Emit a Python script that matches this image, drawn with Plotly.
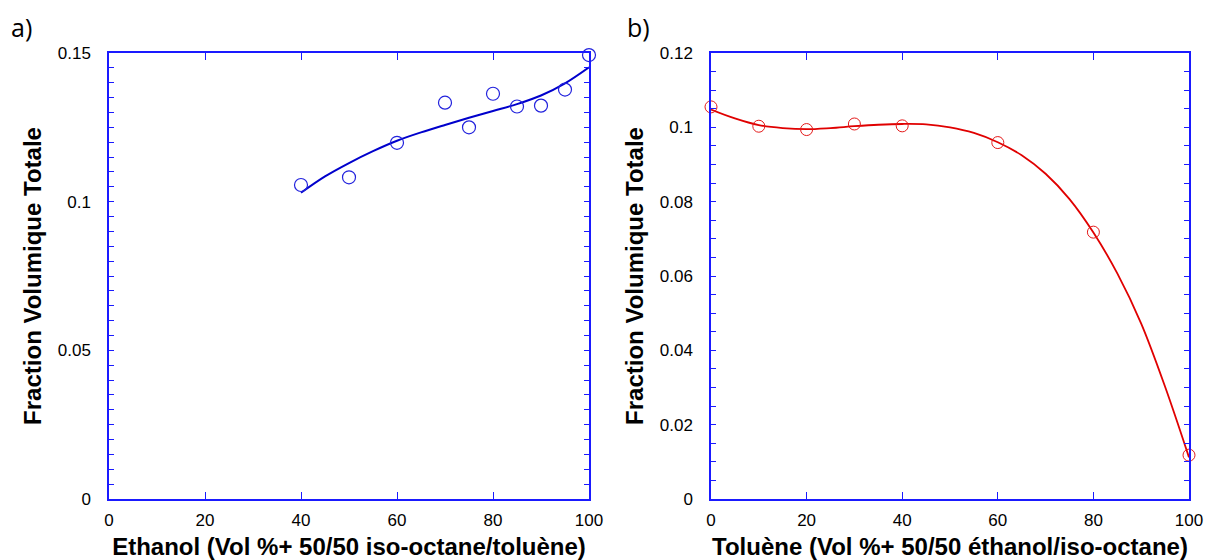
import plotly.graph_objects as go

# a) Ethanol - points measured
eth_x = [40, 50, 60, 70, 75, 80, 85, 90, 95, 100]
eth_y = [0.1056, 0.1082, 0.1198, 0.1333, 0.1250, 0.1363, 0.1320, 0.1323, 0.1377, 0.1493]
# a) fitted curve (read from picture)
eth_fit_x = [40, 45, 50, 55, 60, 65, 70, 75, 80, 85, 90, 95, 100]
eth_fit_y = [0.1030, 0.1085, 0.1130, 0.1170, 0.1205, 0.1233, 0.1258, 0.1282, 0.1305, 0.1328, 0.1357, 0.1398, 0.1452]

# b) Toluene - points measured
tol_x = [0, 10, 20, 30, 40, 60, 80, 100]
tol_y = [0.1055, 0.1003, 0.0994, 0.1009, 0.1004, 0.0959, 0.0718, 0.0118]
# b) fitted curve
tol_fit_x = [0, 5, 10, 15, 20, 25, 30, 35, 40, 45, 50, 55, 60, 65, 70, 75, 80, 85, 90, 95, 100]
tol_fit_y = [0.1048, 0.1024, 0.1006, 0.0998, 0.0995, 0.0998, 0.1003, 0.1007, 0.1009, 0.1008, 0.1000,
             0.0985, 0.0960, 0.0925, 0.0875, 0.0807, 0.0717, 0.0607, 0.0472, 0.0302, 0.0112]

red = '#e00000'
axis_col = '#1a1aff'

fig = go.Figure()

fig.add_trace(go.Scatter(x=eth_fit_x, y=eth_fit_y, mode='lines', line=dict(color='#0000cc', width=2, shape='spline'),
                         xaxis='x', yaxis='y', showlegend=False))
fig.add_trace(go.Scatter(x=eth_x, y=eth_y, mode='markers',
                         marker=dict(symbol='circle-open', size=13, color='#2222dd', line=dict(width=1.2)),
                         xaxis='x', yaxis='y', showlegend=False, cliponaxis=False))

fig.add_trace(go.Scatter(x=tol_fit_x, y=tol_fit_y, mode='lines', line=dict(color=red, width=1.8, shape='spline'),
                         xaxis='x2', yaxis='y2', showlegend=False))
fig.add_trace(go.Scatter(x=tol_x, y=tol_y, mode='markers',
                         marker=dict(symbol='circle-open', size=12, color='#e41a1a', line=dict(width=1)),
                         xaxis='x2', yaxis='y2', showlegend=False, cliponaxis=False))

tickfont = dict(family='Liberation Sans, Arial', size=17, color='black')
titlefont = dict(family='Liberation Sans, Arial', size=24, color='black', weight='bold')

xcommon = dict(range=[0, 100], dtick=20, ticks='inside', ticklen=7, tickcolor=axis_col,
               showline=True, linecolor=axis_col, linewidth=1.5, mirror='ticks', automargin=False,
               showgrid=False, zeroline=False, tickfont=tickfont, ticklabelstandoff=5)
ycommon = dict(ticks='inside', ticklen=5, tickcolor=axis_col, automargin=False,
               showline=True, linecolor=axis_col, linewidth=1.5, mirror='ticks',
               showgrid=False, zeroline=False, tickfont=tickfont, ticklabelstandoff=13,
               minor=dict(dtick=0.005, ticks='inside', ticklen=5, tickcolor=axis_col, showgrid=False))

# the page body adds an 8px offset, so the figure is 8px smaller and margins shifted
OFF = 8
FW, FH = 1212 - OFF, 560 - OFF
L, R, T, B = 109 - OFF, 23, 53 - OFF, 61
W = FW - L - R
H = FH - T - B

fig.update_layout(
    width=FW, height=FH,
    margin=dict(l=L, r=R, t=T, b=B),
    paper_bgcolor='white', plot_bgcolor='white',
    xaxis=dict(xcommon, domain=[0, (589 - 109) / W], anchor='y',
               title=dict(text='Ethanol (Vol %+ 50/50 iso-octane/toluène)', font=titlefont, standoff=11)),
    yaxis=dict(ycommon, domain=[0, 1], anchor='x', range=[0, 0.15],
               tickvals=[0, 0.05, 0.1, 0.15], ticktext=['0', '0.05', '0.1', '0.15'],
               title=dict(text='Fraction Volumique Totale', font=titlefont, standoff=9)),
    xaxis2=dict(xcommon, domain=[(711 - 109) / W, 1], anchor='y2',
                title=dict(text='Toluène (Vol %+ 50/50 éthanol/iso-octane)', font=titlefont, standoff=11)),
    yaxis2=dict(ycommon, domain=[0, 1], anchor='x2', range=[0, 0.12],
                tickvals=[0, 0.02, 0.04, 0.06, 0.08, 0.1, 0.12],
                ticktext=['0', '0.02', '0.04', '0.06', '0.08', '0.1', '0.12'],
                title=dict(text='Fraction Volumique Totale', font=titlefont, standoff=9)),
    annotations=[
        dict(text='a)', x=9, y=8, xref='paper', yref='paper', xanchor='left', yanchor='top',
             showarrow=False, font=dict(family='Open Sans', size=25, color='black')),
        dict(text='b)', x=625, y=8, xref='paper', yref='paper', xanchor='left', yanchor='top',
             showarrow=False, font=dict(family='Open Sans', size=25, color='black')),
    ],
)

# annotation positions given in screen pixels above -> convert to paper coords
for ann in fig.layout.annotations:
    ann.x = (ann.x - OFF - L) / W
    ann.y = (FH - B - (ann.y - OFF)) / H

fig.write_html("out.html")
